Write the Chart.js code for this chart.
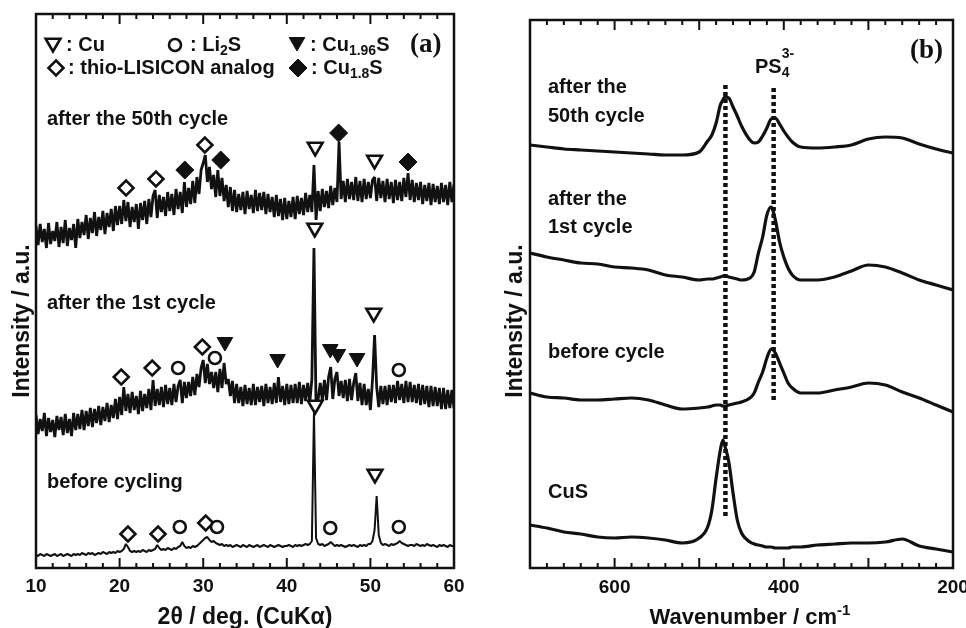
<!DOCTYPE html>
<html><head><meta charset="utf-8">
<script src="https://cdn.jsdelivr.net/npm/chart.js@4.4.1/dist/chart.umd.min.js"></script>
<style>
html,body{margin:0;padding:0;background:#fff;}
#wrap{position:relative;width:966px;height:628px;overflow:hidden;background:#fff}
canvas{position:absolute;top:0}
</style>
</head><body>
<div id="wrap">
<canvas id="xrd" width="480" height="628" style="left:0;width:480px;height:628px"></canvas>
<canvas id="raman" width="486" height="628" style="left:480px;width:486px;height:628px"></canvas>
</div>
<script>
// ---------------- Panel (a): XRD, 2theta / deg ----------------
const twoTheta = [
10,10.25,10.5,10.75,11,11.25,11.5,11.75,12,12.25,12.5,12.75,13,13.25,13.5,13.75,14,14.25,14.5,14.75,
15,15.25,15.5,15.75,16,16.25,16.5,16.75,17,17.25,17.5,17.75,18,18.25,18.5,18.75,19,19.25,19.5,19.75,
20,20.25,20.5,20.75,21,21.25,21.5,21.75,22,22.25,22.5,22.75,23,23.25,23.5,23.75,24,24.25,24.5,24.75,
25,25.25,25.5,25.75,26,26.25,26.5,26.75,27,27.25,27.5,27.75,28,28.25,28.5,28.75,29,29.25,29.5,29.75,
30,30.25,30.5,30.75,31,31.25,31.5,31.75,32,32.25,32.5,32.75,33,33.25,33.5,33.75,34,34.25,34.5,34.75,
35,35.25,35.5,35.75,36,36.25,36.5,36.75,37,37.25,37.5,37.75,38,38.25,38.5,38.75,39,39.25,39.5,39.75,
40,40.25,40.5,40.75,41,41.25,41.5,41.75,42,42.25,42.5,42.75,43,43.25,43.5,43.75,44,44.25,44.5,44.75,
45,45.25,45.5,45.75,46,46.25,46.5,46.75,47,47.25,47.5,47.75,48,48.25,48.5,48.75,49,49.25,49.5,49.75,
50,50.25,50.5,50.75,51,51.25,51.5,51.75,52,52.25,52.5,52.75,53,53.25,53.5,53.75,54,54.25,54.5,54.75,
55,55.25,55.5,55.75,56,56.25,56.5,56.75,57,57.25,57.5,57.75,58,58.25,58.5,58.75,59,59.25,59.5,59.75,
60];

const xrdBefore = [
13,12,14,13,12,14,13,12,13,14,12,13,14,12,13,14,13,12,14,13,
14,13,15,14,13,15,14,15,13,14,15,14,16,15,14,16,15,16,15,17,
16,17,19,24,21,17,16,17,16,17,16,18,17,16,18,17,18,19,23,20,
18,19,18,20,19,18,20,19,21,22,26,22,20,21,20,22,21,22,24,26,
28,30,31,28,26,27,25,24,23,24,22,23,22,23,21,22,23,22,21,23,
22,21,23,22,21,22,23,21,22,23,22,21,23,22,21,22,23,22,21,22,
22,23,22,21,23,22,23,22,23,24,23,24,27,156,30,24,23,24,22,23,
24,26,24,22,23,22,23,22,21,22,23,22,23,22,21,23,22,23,22,24,
24,27,38,72,33,25,23,24,23,22,24,23,24,25,27,25,24,23,22,23,
23,22,24,23,22,23,22,24,23,22,23,22,21,23,22,23,22,21,23,22,
22];

const xrdFirst = [
153,134,149,137,155,132,150,136,148,131,152,138,151,133,154,135,149,132,155,138,
154,139,158,138,157,142,160,141,159,145,162,143,161,147,165,146,163,150,169,149,
171,153,181,157,174,155,176,158,172,154,177,157,174,160,179,158,188,162,179,163,
181,161,183,164,180,163,184,166,182,188,165,186,170,186,172,191,173,194,181,200,
208,185,204,184,196,180,196,176,199,180,205,184,189,172,187,165,184,165,181,162,
183,164,180,163,184,163,181,166,182,162,184,165,181,164,185,165,191,166,182,163,
184,164,183,165,184,165,186,164,183,167,185,166,189,320,160,169,185,168,188,168,
191,201,169,189,196,172,187,170,188,167,189,168,185,195,167,185,163,184,163,179,
158,188,233,181,161,182,164,182,163,183,166,183,165,187,168,184,165,187,166,186,
166,183,165,184,163,183,164,182,161,182,162,181,162,180,159,180,159,178,160,178,
160];

const xrdFiftieth = [
342,323,344,326,339,320,345,324,337,327,346,321,341,325,348,322,340,328,344,320,
349,330,346,333,353,329,350,335,356,332,351,338,357,334,355,341,359,337,362,343,
362,344,368,347,366,341,361,346,364,339,365,348,367,344,369,351,372,378,350,373,
356,371,352,376,357,374,353,379,359,376,355,386,361,380,364,387,365,391,374,398,
405,413,386,401,379,393,371,398,372,390,367,383,361,381,357,378,356,374,358,376,
354,377,359,373,355,378,357,375,358,376,354,374,356,371,351,373,352,369,348,370,
349,367,351,371,349,372,354,370,353,375,356,373,356,403,348,377,357,379,361,377,
360,382,363,380,366,426,369,387,366,389,369,386,368,391,367,387,366,389,369,386,
370,388,391,367,390,370,387,366,389,369,386,365,388,368,386,367,390,371,395,368,
388,366,385,368,386,364,383,367,385,363,384,366,382,364,385,366,383,363,386,366,
384];

// phase markers (2theta, intensity)
const cuX    = [43.4, 50.5, 43.35, 50.4, 43.4, 50.55];
const cuY    = [421, 408, 340, 255, 163, 94];
const li2sX  = [27.0, 31.4, 53.4, 27.2, 31.65, 45.2, 53.4];
const li2sY  = [200, 210, 198, 41, 41, 40, 41];
const cu196X = [32.6, 38.9, 45.2, 46.1, 48.4];
const cu196Y = [226, 209, 219, 214, 210];
const thioX  = [20.77, 24.35, 30.2, 20.2, 23.9, 29.9, 21.0, 24.6, 30.3];
const thioY  = [380, 389, 423, 191, 200, 221, 34, 34, 45];
const cu18X  = [27.8, 32.1, 46.2, 54.5];
const cu18Y  = [398, 408, 435, 406];

const xrdTickLabels = [10, 20, 30, 40, 50, 60];

// ---------------- Panel (b): Raman ----------------
const wavenumber = [700,680,660,640,620,600,580,560,540,520,500,490,485,480,475,472,470,465,460,455,
                    450,440,435,430,425,420,415,410,405,400,395,390,380,360,340,320,300,280,260,240,220,200];
const ramanFiftieth = [423,421,419,418,417,416,415,414,413,413,416,427,433,445,463,468,471,470,461,452,
                       442,428,425,426,432,440,449,450,444,437,431,426,421,420,421,423,429,431,430,424,419,415];
const ramanFirst    = [315,311,308,305,304,301,300,298,293,291,288,289,289,290,291,292,292,291,290,289,
                       288,290,296,315,331,353,361,348,326,311,300,293,288,288,291,297,303,301,295,288,283,278];
const ramanBefore   = [175,171,170,168,168,169,170,168,163,159,160,161,162,163,163,162,162,163,164,165,
                       166,170,175,186,196,210,219,215,205,195,185,180,175,175,178,181,185,183,176,170,163,156];
const ramanCuS      = [43,40,36,34,31,30,31,30,28,25,30,41,58,90,118,128,123,106,75,48,
                       35,26,24,23,22,21,21,20,20,20,20,21,21,23,24,25,25,26,29,22,19,16];
const guideCuSX = [469, 469];
const guideCuSY = [483, 50];
const guidePS4X = [412, 412];
const guidePS4Y = [480, 166];
const ramanTickLabels = [600, 400, 200];

// ---------------- styling helpers ----------------
const INK = '#111';
const SANS = '"Liberation Sans", Arial, Helvetica, sans-serif';
const SERIF = '"Liberation Serif", "Times New Roman", serif';
const MK = {
  cu:    {pointStyle:'triangle', rot:180, r:8.5, fill:'#fff', bw:2.6},
  li2s:  {pointStyle:'circle',   rot:0,   r:6,   fill:'#fff', bw:2.6},
  cu196: {pointStyle:'triangle', rot:180, r:9,   fill:INK,    bw:1},
  thio:  {pointStyle:'rectRot',  rot:0,   r:7.5, fill:'#fff', bw:2.6},
  cu18:  {pointStyle:'rectRot',  rot:0,   r:9,   fill:INK,    bw:1}
};
const pts = (xs, ys) => xs.map((x, i) => ({x, y: ys[i]}));

function traceDs(xs, ys, width, smooth) {
  return {data: pts(xs, ys), borderColor: INK, borderWidth: width, pointRadius: 0, fill: false,
          order: 2, borderJoinStyle: smooth ? 'round' : 'bevel',
          cubicInterpolationMode: smooth ? 'monotone' : 'default', tension: 0};
}
function markerDs(xs, ys, m) {
  return {data: pts(xs, ys), showLine: false, order: 1, pointStyle: m.pointStyle, pointRotation: m.rot,
          pointRadius: m.r, pointBorderWidth: m.bw, pointBackgroundColor: m.fill, pointBorderColor: INK,
          pointHoverRadius: m.r, borderColor: INK, backgroundColor: m.fill};
}

function drawShape(ctx, m, x, y) {
  ctx.save();
  ctx.lineWidth = m.bw; ctx.strokeStyle = INK; ctx.fillStyle = m.fill; ctx.lineJoin = 'miter';
  ctx.beginPath();
  if (m.pointStyle === 'triangle') {
    let a = m.rot * Math.PI / 180;
    for (let k = 0; k < 3; k++) {
      const px = x + Math.sin(a) * m.r, py = y - Math.cos(a) * m.r;
      k ? ctx.lineTo(px, py) : ctx.moveTo(px, py);
      a += 2 * Math.PI / 3;
    }
    ctx.closePath();
  } else if (m.pointStyle === 'rectRot') {
    ctx.moveTo(x, y - m.r); ctx.lineTo(x + m.r, y); ctx.lineTo(x, y + m.r); ctx.lineTo(x - m.r, y); ctx.closePath();
  } else {
    ctx.arc(x, y, m.r, 0, Math.PI * 2);
  }
  ctx.fill(); ctx.stroke();
  ctx.restore();
}

function richText(ctx, x, y, parts, size, align, family) {
  const fam = family || SANS;
  const small = Math.round(size * 0.7);
  const fontOf = p => `bold ${p.s ? small : size}px ${fam}`;
  let total = 0;
  parts.forEach(p => { if (!p.stack) { ctx.font = fontOf(p); total += ctx.measureText(p.t).width; } });
  let cx = align === 'center' ? x - total / 2 : x;
  let last = cx;
  ctx.textAlign = 'left'; ctx.textBaseline = 'alphabetic'; ctx.fillStyle = INK;
  parts.forEach(p => {
    ctx.font = fontOf(p);
    const dy = p.dy !== undefined ? p.dy : (p.s === 'sub' ? size * 0.22 : p.s === 'sup' ? -size * 0.42 : 0);
    const px = p.stack ? last : cx;
    ctx.fillText(p.t, px, y + dy);
    if (!p.stack) { last = cx; cx += ctx.measureText(p.t).width; }
  });
}

const decor = {
  id: 'decor',
  afterDraw(chart, args, o) {
    const ctx = chart.ctx, a = chart.chartArea, xs = chart.scales.x;
    ctx.save();
    ctx.strokeStyle = INK; ctx.lineWidth = 2;
    const lo = Math.min(xs.min, xs.max), hi = Math.max(xs.min, xs.max);
    for (let v = lo; v <= hi + 1e-9; v += o.minor) {
      const px = xs.getPixelForValue(v);
      const major = Math.abs(v / o.major - Math.round(v / o.major)) < 1e-6;
      const len = major ? 10 : 5;
      ctx.beginPath();
      ctx.moveTo(px, a.bottom); ctx.lineTo(px, a.bottom - len);
      ctx.moveTo(px, a.top); ctx.lineTo(px, a.top + len);
      ctx.stroke();
    }
    ctx.lineWidth = 2.5;
    ctx.strokeRect(a.left, a.top, a.right - a.left, a.bottom - a.top);
    ctx.fillStyle = INK; ctx.font = `bold ${o.tickSize}px ${SANS}`;
    ctx.textAlign = 'center'; ctx.textBaseline = 'alphabetic';
    o.tickLabels.forEach(v => ctx.fillText(String(v), xs.getPixelForValue(v), o.tickBase));
    richText(ctx, o.xTitle.x, o.xTitle.y, o.xTitle.parts, o.xTitle.size, 'center');
    ctx.save();
    ctx.translate(o.yTitle.x, o.yTitle.y);
    ctx.rotate(-Math.PI / 2);
    ctx.font = `bold ${o.yTitle.size}px ${SANS}`;
    ctx.textAlign = 'center'; ctx.textBaseline = 'alphabetic';
    ctx.fillText(o.yTitle.text, 0, 0);
    ctx.restore();
    o.notes.forEach(n => richText(ctx, n.x, n.y, n.parts, n.size, n.align || 'left', n.family));
    (o.symbols || []).forEach(s => drawShape(ctx, MK[s.k], s.x, s.y));
    ctx.restore();
  }
};

const baseOpts = (xmin, xmax, ymax, reverse, pad, decorOpts) => ({
  responsive: false, animation: false, devicePixelRatio: 1,
  layout: {padding: pad},
  scales: {
    x: {type: 'linear', min: xmin, max: xmax, reverse: reverse, display: false},
    y: {type: 'linear', min: 0, max: ymax, display: false}
  },
  plugins: {legend: {display: false}, tooltip: {enabled: false}, decor: decorOpts},
  events: []
});

// ---------------- chart (a) ----------------
new Chart(document.getElementById('xrd'), {
  type: 'line',
  data: {datasets: [
    markerDs(cuX, cuY, MK.cu),
    markerDs(li2sX, li2sY, MK.li2s),
    markerDs(cu196X, cu196Y, MK.cu196),
    markerDs(thioX, thioY, MK.thio),
    markerDs(cu18X, cu18Y, MK.cu18),
    traceDs(twoTheta, xrdFiftieth, 2.8, false),
    traceDs(twoTheta, xrdFirst, 2.8, false),
    traceDs(twoTheta, xrdBefore, 2, false)
  ]},
  options: baseOpts(10, 60, 554, false, {left: 36, right: 26, top: 14, bottom: 60}, {
    minor: 2, major: 10, tickLabels: xrdTickLabels, tickSize: 19, tickBase: 592,
    xTitle: {x: 245, y: 624, size: 23, parts: [{t: '2θ / deg. (CuKα)'}]},
    yTitle: {x: 29, y: 321, size: 23, text: 'Intensity / a.u.'},
    notes: [
      {x: 47, y: 125, size: 20, parts: [{t: 'after the 50th cycle'}]},
      {x: 47, y: 309, size: 20, parts: [{t: 'after the 1st cycle'}]},
      {x: 47, y: 488, size: 20, parts: [{t: 'before cycling'}]},
      {x: 66, y: 51, size: 20, parts: [{t: ': Cu'}]},
      {x: 190, y: 51, size: 20, parts: [{t: ': Li'}, {t: '2', s: 'sub'}, {t: 'S'}]},
      {x: 310, y: 51, size: 20, parts: [{t: ': Cu'}, {t: '1.96', s: 'sub'}, {t: 'S'}]},
      {x: 68, y: 74, size: 20, parts: [{t: ': thio-LISICON analog'}]},
      {x: 311, y: 74, size: 20, parts: [{t: ': Cu'}, {t: '1.8', s: 'sub'}, {t: 'S'}]},
      {x: 410, y: 52, size: 27, family: SERIF, parts: [{t: '(a)'}]}
    ],
    symbols: [
      {k: 'cu', x: 53, y: 43}, {k: 'li2s', x: 175, y: 45}, {k: 'cu196', x: 297, y: 42},
      {k: 'thio', x: 56, y: 68}, {k: 'cu18', x: 298, y: 68}
    ]
  })
  , plugins: [decor]
});

// ---------------- chart (b) ----------------
const guideDs = (xs, ys) => ({data: pts(xs, ys), borderColor: INK, borderWidth: 4.5, borderDash: [4, 3],
  borderCapStyle: 'butt', pointRadius: 0, fill: false, order: 3});
new Chart(document.getElementById('raman'), {
  type: 'line',
  data: {datasets: [
    traceDs(wavenumber, ramanFiftieth, 3.2, true),
    traceDs(wavenumber, ramanFirst, 3.2, true),
    traceDs(wavenumber, ramanBefore, 3.2, true),
    traceDs(wavenumber, ramanCuS, 3.2, true),
    guideDs(guideCuSX, guideCuSY),
    guideDs(guidePS4X, guidePS4Y)
  ]},
  options: baseOpts(200, 700, 548, true, {left: 50, right: 13, top: 20, bottom: 60}, {
    minor: 20, major: 100, tickLabels: ramanTickLabels, tickSize: 19, tickBase: 593,
    xTitle: {x: 270, y: 624, size: 22, parts: [{t: 'Wavenumber / cm'}, {t: '-1', s: 'sup'}]},
    yTitle: {x: 42, y: 321, size: 23, text: 'Intensity / a.u.'},
    notes: [
      {x: 68, y: 93, size: 20, parts: [{t: 'after the'}]},
      {x: 68, y: 122, size: 20, parts: [{t: '50th cycle'}]},
      {x: 68, y: 205, size: 20, parts: [{t: 'after the'}]},
      {x: 68, y: 233, size: 20, parts: [{t: '1st cycle'}]},
      {x: 68, y: 358, size: 20, parts: [{t: 'before cycle'}]},
      {x: 68, y: 498, size: 20, parts: [{t: 'CuS'}]},
      {x: 275, y: 73, size: 20, parts: [{t: 'PS'}, {t: '4', s: 'sub', dy: 4}, {t: '3-', s: 'sup', stack: true, dy: -15}]},
      {x: 430, y: 58, size: 27, family: SERIF, parts: [{t: '(b)'}]}
    ]
  })
  , plugins: [decor]
});
</script>
</body></html>
